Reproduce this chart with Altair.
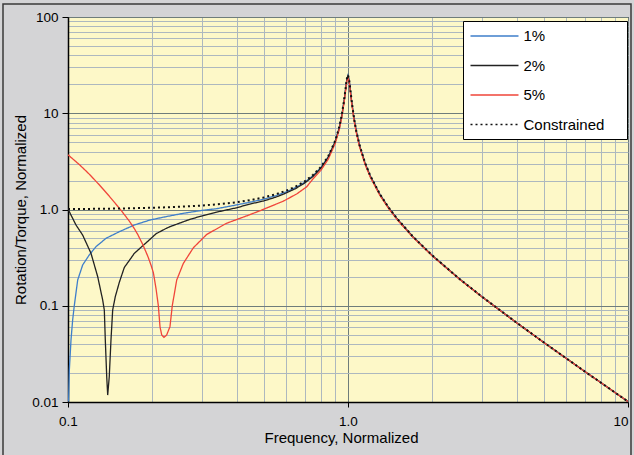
import altair as alt
import pandas as pd

# ---------------- data ----------------
SERIES = ["1%", "2%", "5%", "Constrained"]
COLORS = ["#3f7fca", "#222222", "#f0453a", "#111111"]
DASHES = [[1, 0], [1, 0], [1, 0], [2, 3]]

FREQ_1 = [0.1005, 0.1011, 0.1025, 0.1039, 0.1053, 0.1083, 0.1128, 0.1191, 0.1259, 0.1367,
          0.1525, 0.1725, 0.1963, 0.22, 0.2581, 0.3, 0.3398, 0.4, 0.4467, 0.5,
          0.55, 0.6, 0.65, 0.7, 0.75, 0.8, 0.85, 0.9, 0.93, 0.95,
          0.97, 0.98, 0.99, 1.0, 1.01, 1.02, 1.03, 1.05, 1.07, 1.1,
          1.15, 1.2, 1.3, 1.4, 1.5, 1.7, 2.0, 2.5, 3.0, 4.0,
          5.0, 6.0, 7.0, 8.0, 9.0, 10.0]
VAL_1 = [0.0101, 0.0215, 0.0441, 0.0711, 0.100, 0.185, 0.265, 0.337, 0.411, 0.502,
         0.588, 0.690, 0.778, 0.834, 0.913, 0.977, 1.02, 1.116, 1.19, 1.28,
         1.386, 1.519, 1.691, 1.921, 2.245, 2.724, 3.528, 5.107, 7.054, 9.450,
         13.99, 17.76, 22.34, 24.75, 21.94, 17.25, 13.47, 8.946, 6.561, 4.622,
         3.047, 2.243, 1.437, 1.035, 0.796, 0.527, 0.3325, 0.190, 0.1249, 0.0666,
         0.0417, 0.0286, 0.0208, 0.0159, 0.0125, 0.0101]

FREQ_2 = [0.1, 0.1068, 0.1128, 0.1208, 0.1277, 0.133, 0.1348, 0.1359, 0.1375, 0.1386,
          0.1404, 0.1424, 0.1444, 0.1475, 0.1525, 0.1589, 0.1655, 0.1725, 0.1849, 0.1963,
          0.2063, 0.2239, 0.2313, 0.2728, 0.3, 0.3398, 0.4, 0.4467, 0.5, 0.55,
          0.5871, 0.65, 0.7, 0.75, 0.8, 0.85, 0.9, 0.93, 0.95, 0.97,
          0.98, 0.99, 1.0, 1.01, 1.02, 1.03, 1.05, 1.07, 1.1, 1.15,
          1.2, 1.3, 1.4, 1.5, 1.7, 2.0, 2.5, 3.0, 4.0, 5.0,
          6.0, 7.0, 8.0, 9.0, 10.0]
VAL_2 = [1.01, 0.69, 0.543, 0.351, 0.2, 0.1147, 0.0903, 0.0441, 0.0183, 0.0118,
         0.0183, 0.0441, 0.0903, 0.124, 0.175, 0.25, 0.295, 0.350, 0.420, 0.490,
         0.560, 0.635, 0.663, 0.791, 0.855, 0.940, 1.042, 1.14, 1.227, 1.339,
         1.44, 1.650, 1.881, 2.204, 2.680, 3.478, 5.043, 6.971, 9.344, 13.84,
         17.58, 22.11, 24.5, 21.73, 17.09, 13.34, 8.864, 6.503, 4.584, 3.024,
         2.228, 1.428, 1.029, 0.793, 0.525, 0.3317, 0.1899, 0.1247, 0.0666, 0.0416,
         0.0286, 0.0208, 0.0159, 0.0125, 0.0101]

FREQ_5 = [0.1, 0.1097, 0.1191, 0.1293, 0.1404, 0.1546, 0.1655, 0.1725, 0.1774, 0.1849,
          0.1927, 0.198, 0.2018, 0.2063, 0.2102, 0.2131, 0.2161, 0.2202, 0.2251, 0.2313,
          0.2357, 0.2445, 0.2581, 0.2803, 0.3127, 0.3686, 0.4352, 0.4847, 0.5871, 0.6557,
          0.7119, 0.75, 0.8, 0.85, 0.9, 0.93, 0.95, 0.97, 0.98, 0.99,
          1.0, 1.01, 1.02, 1.03, 1.05, 1.07, 1.1, 1.15, 1.2, 1.3,
          1.4, 1.5, 1.7, 2.0, 2.5, 3.0, 4.0, 5.0, 6.0, 7.0,
          8.0, 9.0, 10.0]
VAL_5 = [3.70, 2.935, 2.331, 1.806, 1.376, 0.983, 0.759, 0.634, 0.551, 0.433,
         0.3275, 0.2634, 0.2203, 0.150, 0.1, 0.0606, 0.0497, 0.047, 0.0497, 0.0606,
         0.1, 0.185, 0.275, 0.40, 0.55, 0.72, 0.86, 0.97, 1.22, 1.45,
         1.72, 2.083, 2.551, 3.329, 4.852, 6.724, 9.027, 13.39, 17.02, 21.42,
         23.3, 21.07, 16.58, 12.96, 8.619, 6.33, 4.468, 2.954, 2.181, 1.402,
         1.013, 0.782, 0.520, 0.3292, 0.189, 0.1243, 0.0665, 0.0416, 0.0285, 0.0208,
         0.0159, 0.0125, 0.0101]

FREQ_C = [0.1, 0.12, 0.15, 0.2, 0.25, 0.3, 0.35, 0.4, 0.45, 0.5,
          0.55, 0.6, 0.65, 0.7, 0.75, 0.8, 0.85, 0.9, 0.93, 0.95,
          0.97, 0.98, 0.99, 1.0, 1.01, 1.02, 1.03, 1.05, 1.07, 1.1,
          1.15, 1.2, 1.3, 1.4, 1.5, 1.7, 2.0, 2.5, 3.0, 4.0,
          5.0, 6.0, 7.0, 8.0, 9.0, 10.0]
VAL_C = [1.010, 1.015, 1.023, 1.042, 1.067, 1.099, 1.140, 1.190, 1.254, 1.333,
         1.434, 1.563, 1.732, 1.961, 2.286, 2.767, 3.577, 5.171, 7.136, 9.556,
         14.14, 17.95, 22.57, 25.0, 22.16, 17.42, 13.60, 9.028, 6.619, 4.661,
         3.070, 2.259, 1.445, 1.040, 0.800, 0.529, 0.3333, 0.1905, 0.125, 0.0667,
         0.0417, 0.0286, 0.0208, 0.0159, 0.0125, 0.0101]

X_TICKS = [0.1, 0.2, 0.3, 0.4, 0.5, 0.6, 0.7, 0.8, 0.9,
           1, 2, 3, 4, 5, 6, 7, 8, 9, 10]
Y_TICKS = [0.01, 0.02, 0.03, 0.04, 0.05, 0.06, 0.07, 0.08, 0.09,
           0.1, 0.2, 0.3, 0.4, 0.5, 0.6, 0.7, 0.8, 0.9,
           1, 2, 3, 4, 5, 6, 7, 8, 9,
           10, 20, 30, 40, 50, 60, 70, 80, 90, 100]
X_MAJOR = [0.1, 1, 10]
X_MAJOR_LABELS = ["0.1", "1.0", "10"]
Y_MAJOR = [0.01, 0.1, 1, 10, 100]
Y_MAJOR_LABELS = ["0.01", "0.1", "1.0", "10", "100"]

# ---------------- table ----------------
rows = []
for name, fs, vs in [("1%", FREQ_1, VAL_1), ("2%", FREQ_2, VAL_2),
                     ("5%", FREQ_5, VAL_5), ("Constrained", FREQ_C, VAL_C)]:
    assert len(fs) == len(vs)
    for i, (f, v) in enumerate(zip(fs, vs)):
        rows.append({"series": name, "freq": f, "value": v, "i": i})
df = pd.DataFrame(rows)

FONT = "Liberation Sans"
MAJOR_GRID = "#6f7d7b"
MINOR_GRID = "#adb8bf"


def label_expr(vals, labels):
    return " : ".join(f"datum.value == {v} ? '{l}'" for v, l in zip(vals, labels)) + " : ''"


def major_test(vals):
    return " || ".join(f"datum.value == {v}" for v in vals)


x_axis = alt.Axis(
    values=X_TICKS, labelExpr=label_expr(X_MAJOR, X_MAJOR_LABELS),
    labelOverlap=False, labelFlush=False,
    grid=True, gridWidth=1,
    gridColor={"condition": {"test": major_test(X_MAJOR), "value": MAJOR_GRID}, "value": MINOR_GRID},
    tickColor={"condition": {"test": major_test(X_MAJOR), "value": "black"}, "value": "transparent"},
    tickSize=5, tickWidth=1,
    labelAlign={"condition": {"test": "datum.value == 10", "value": "right"}, "value": "center"},
    domainColor="black", domainWidth=1.5,
    labelFont=FONT, labelFontSize=13.5, labelColor="black", labelPadding=7,
    title="Frequency, Normalized", titleFont=FONT, titleFontSize=15,
    titleFontWeight="normal", titleColor="black", titlePadding=3, titleX=273,
)
y_axis = alt.Axis(
    values=Y_TICKS, labelExpr=label_expr(Y_MAJOR, Y_MAJOR_LABELS),
    labelOverlap=False, labelFlush=False,
    grid=True, gridWidth=1,
    gridColor={"condition": {"test": major_test(Y_MAJOR), "value": MAJOR_GRID}, "value": MINOR_GRID},
    tickColor={"condition": {"test": major_test(Y_MAJOR), "value": "black"}, "value": "transparent"},
    tickSize=6, tickWidth=1,
    domainColor="black", domainWidth=1.5,
    labelFont=FONT, labelFontSize=13.5, labelColor="black", labelPadding=4,
    title="Rotation/Torque, Normalized", titleFont=FONT, titleFontSize=15,
    titleFontWeight="normal", titleColor="black", titlePadding=3,
)

# legend symbol: a 48 px stroke, plus an empty zero-length segment far right that
# only widens the white legend box to match the reference
legend = alt.Legend(
    title=None, orient="none", legendX=395, legendY=4,
    fillColor="white", strokeColor="black", padding=6.5, rowPadding=12.5,
    symbolType="M-1,0H5.4M18.5,0H18.5", symbolSize=225, symbolStrokeWidth=1.5,
    labelFont=FONT, labelFontSize=15, labelColor="black", labelOffset=37,
    labelLimit=300,
)

color = alt.Color("series:N", scale=alt.Scale(domain=SERIES, range=COLORS), legend=legend)
dash = alt.StrokeDash("series:N", scale=alt.Scale(domain=SERIES, range=DASHES), legend=legend)
x = alt.X("freq:Q", scale=alt.Scale(type="log", domain=[0.1, 10], nice=False), axis=x_axis)
y = alt.Y("value:Q", scale=alt.Scale(type="log", domain=[0.01, 100], nice=False), axis=y_axis)

solid = alt.Chart(df).transform_filter(alt.datum.series != "Constrained").mark_line(
    clip=True, strokeWidth=1.3, interpolate="linear"
).encode(x=x, y=y, color=color, strokeDash=dash, order="i:Q")

constrained = alt.Chart(df).transform_filter(alt.datum.series == "Constrained").mark_line(
    clip=True, strokeWidth=2, interpolate="linear"
).encode(x=x, y=y, color=color, strokeDash=dash, order="i:Q")

frame = alt.Chart(alt.Data(values=[{"k": 1}])).mark_rect(
    fillOpacity=0, stroke="#3a3a3a", strokeWidth=1.5
).encode(x=alt.value(-65), x2=alt.value(563), y=alt.value(-13), y2=alt.value(470))

chart = alt.layer(solid, constrained, frame).properties(
    width=560, height=385,
    background="#d4d4d6",
    padding={"left": 68, "top": 17, "right": 6, "bottom": 53},
    autosize=alt.AutoSizeParams(type="none"),
).configure(font=FONT).configure_view(fill="#fdf8c8", stroke="black", strokeWidth=1)

chart.save("out.html", embed_options={"renderer": "svg", "actions": False})
